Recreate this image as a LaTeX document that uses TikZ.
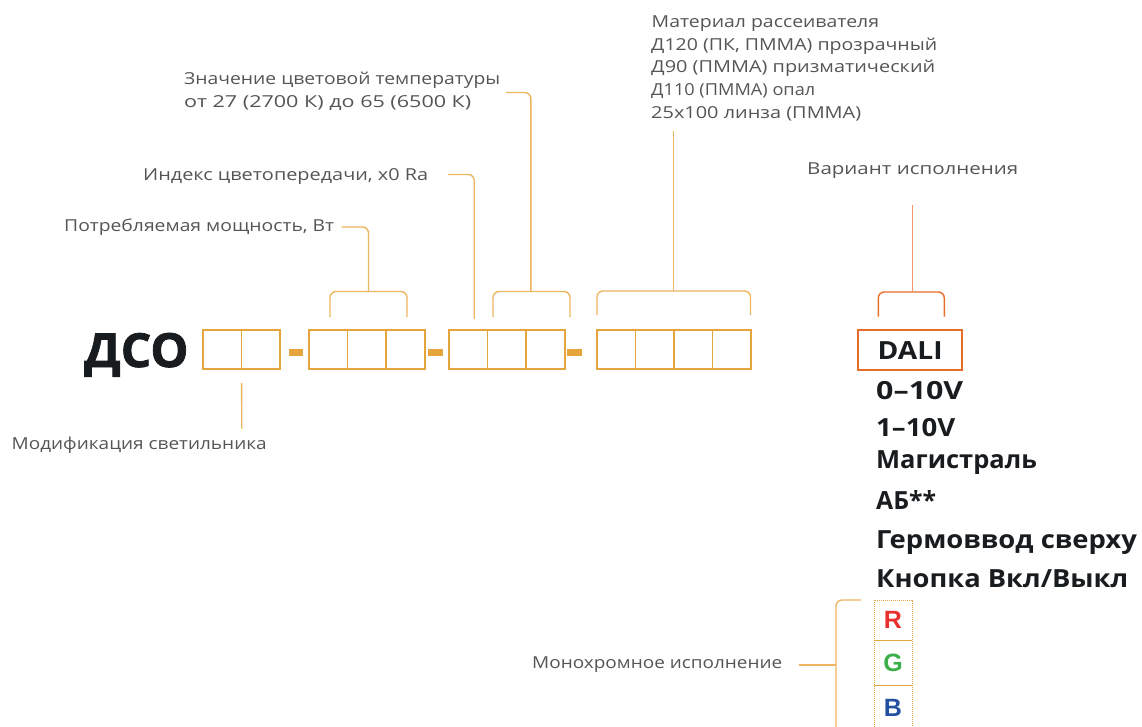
\documentclass[tikz,border=0pt]{standalone}
\usepackage{fontspec}
\usepackage{graphicx}
\setmainfont{Open Sans}
\newfontfamily\rgbfont{Liberation Sans}
\definecolor{gold}{RGB}{229,165,60}
\definecolor{goldl}{RGB}{236,182,95}
\definecolor{org}{RGB}{232,108,42}
\definecolor{orgl}{RGB}{241,150,100}
\definecolor{txtg}{RGB}{85,85,85}
\definecolor{txtk}{RGB}{25,28,30}
\definecolor{rr}{RGB}{232,48,46}
\definecolor{gg}{RGB}{60,175,75}
\definecolor{bb}{RGB}{35,80,160}
\newcommand{\fitw}[2]{\resizebox{#1pt}{\height}{#2}}
\begin{document}
\begin{tikzpicture}[x=1pt,y=-1pt,
 cell/.style={draw=gold,line width=1.6pt,minimum width=38.6pt,minimum height=39pt,inner sep=0pt,outer sep=0pt,anchor=north west},
 dashbar/.style={fill=gold,minimum width=14.5pt,minimum height=6.5pt,inner sep=0pt,anchor=west},
 lbl/.style={anchor=base west,inner sep=0pt,text=txtg,font=\fontsize{16.5}{19}\selectfont},
 opt/.style={anchor=base west,inner sep=0pt,text=txtk,font=\fontsize{25}{30}\selectfont\bfseries},
 conn/.style={draw=goldl,line width=1.4pt,rounded corners=6pt},
 rgbcell/.style={minimum width=38pt,inner sep=0pt,outer sep=0pt,anchor=north west,font=\rgbfont\fontsize{25}{28}\selectfont\bfseries},
]
\useasboundingbox (0,0) rectangle (1142,726);

% main code
\node[anchor=base west,inner sep=0pt,text=txtk,font=\fontsize{47}{50}\selectfont\bfseries\addfontfeature{FakeBold=1.6}] (dso) at (84,367) {\fitw{104.3}{ДСО}};
% group 1
\node[cell] (a1) at (203,330) {};
\node[cell] (a2) at (241.6,330) {};
\node[dashbar] (d1) at (288.3,352.3) {};
% group 2
\node[cell] (b1) at (309,330) {};
\node[cell] (b2) at (347.6,330) {};
\node[cell] (b3) at (386.2,330) {};
\node[dashbar] (d2) at (427.8,352.3) {};
% group 3
\node[cell] (c1) at (449,330) {};
\node[cell] (c2) at (487.6,330) {};
\node[cell] (c3) at (526.2,330) {};
\node[dashbar] (d3) at (567.2,352.3) {};
% group 4
\node[cell,minimum width=38.5pt] (e1) at (597,330) {};
\node[cell,minimum width=38.5pt] (e2) at (635.5,330) {};
\node[cell,minimum width=38.5pt] (e3) at (674,330) {};
\node[cell,minimum width=38.5pt] (e4) at (712.5,330) {};

% labels
\node[lbl] (mat1) at (651.5,27.3) {\fitw{227.3}{Материал рассеивателя}};
\node[lbl] (mat2) at (651,50.1) {\fitw{286}{Д120 (ПК, ПММА) прозрачный}};
\node[lbl] (mat3) at (651,72.9) {\fitw{284}{Д90 (ПММА) призматический}};
\node[lbl] (mat4) at (651,95.7) {\fitw{164}{Д110 (ПММА) опал}};
\node[lbl] (mat5) at (651,118.5) {\fitw{210}{25х100 линза (ПММА)}};
\node[lbl] (temp1) at (184,84.5) {\fitw{316}{Значение цветовой температуры}};
\node[lbl] (temp2) at (184,107) {\fitw{287}{от 27 (2700 К) до 65 (6500 К)}};
\node[lbl] (cri) at (143,180) {\fitw{285}{Индекс цветопередачи, х0 Ra}};
\node[lbl] (pow) at (64,231.7) {\fitw{270}{Потребляемая мощность, Вт}};
\node[lbl] (var) at (807,174) {\fitw{211}{Вариант исполнения}};
\node[lbl] (mod) at (11.5,449) {\fitw{255}{Модификация светильника}};
\node[lbl] (mono) at (532,668) {\fitw{250}{Монохромное исполнение}};

% connectors (gold)
\coordinate (powend) at (341.5,227);
\coordinate (criend) at (448,174.5);
\coordinate (tempend) at (506,92.5);
\coordinate (matend) at (673.5,131);
\coordinate (modend) at (241.8,428.5);
% bracket group 2
\draw[conn] (330,317) -- (330,291.5) -- (407,291.5) -- (407,317);
\draw[conn] (powend) -- (368.5,227) -- (368.5,291.5);
% CRI line
\draw[conn] (criend) -- (474.2,174.5) -- (474.2,319);
% bracket group 3
\draw[conn] (493,317) -- (493,291.5) -- (570,291.5) -- (570,317);
\draw[conn] (tempend) -- (530.8,92.5) -- (530.8,291.5);
% bracket group 4
\draw[conn] (597,315) -- (597,291) -- (750.5,291) -- (750.5,315);
\draw[conn] (matend) -- (673.5,291);
% modification
\draw[conn] (a2.north west |- 0,383) -- (modend);

% options
\node[draw=org,line width=2pt,minimum width=103.7pt,minimum height=40pt,inner sep=0pt,anchor=north west,text=txtk,font=\fontsize{25}{30}\selectfont\bfseries] (dali) at (857.3,329.3) {\fitw{65}{DALI}};
\draw[draw=org,line width=1.4pt,rounded corners=6pt] (878.3,316.7) -- (878.3,292) -- (944.3,292) -- (944.3,316.7);
\draw[draw=orgl,line width=1.4pt] (var.south -| 912.7,0) ++(0,27) -- (912.7,292);
\node[opt] (o1) at (876,399) {\fitw{87}{0–10V}};
\node[opt] (o2) at (876,436.7) {\fitw{79}{1–10V}};
\node[opt] (o3) at (876,468.3) {\fitw{160.7}{Магистраль}};
\node[opt] (o4) at (876,509.3) {\fitw{60}{АБ**}};
\node[opt] (o5) at (876,548.3) {\fitw{260.7}{Гермоввод сверху}};
\node[opt] (o6) at (876,587.3) {\fitw{252}{Кнопка Вкл/Выкл}};

% RGB
\node[rgbcell,minimum height=40.7pt,text=rr] (r) at (874,600) {R};
\node[rgbcell,minimum height=45pt,text=gg] (g) at (874,640.7) {G};
\node[rgbcell,minimum height=45pt,text=bb] (b) at (874,685.7) {B};
\draw[gold,densely dotted,line width=1pt] (b.south west) -- (r.north west) -- (r.north east) -- (b.south east);
\draw[gold,line width=1.3pt] (r.south west) -- (r.south east);
\draw[gold,line width=1.3pt] (g.south west) -- (g.south east);
\draw[conn] (861,600) -- (836,600) -- (836,740);
\draw[conn] ([xshift=17pt]mono.base east |- 0,665) -- (836,665);
\end{tikzpicture}
\end{document}
